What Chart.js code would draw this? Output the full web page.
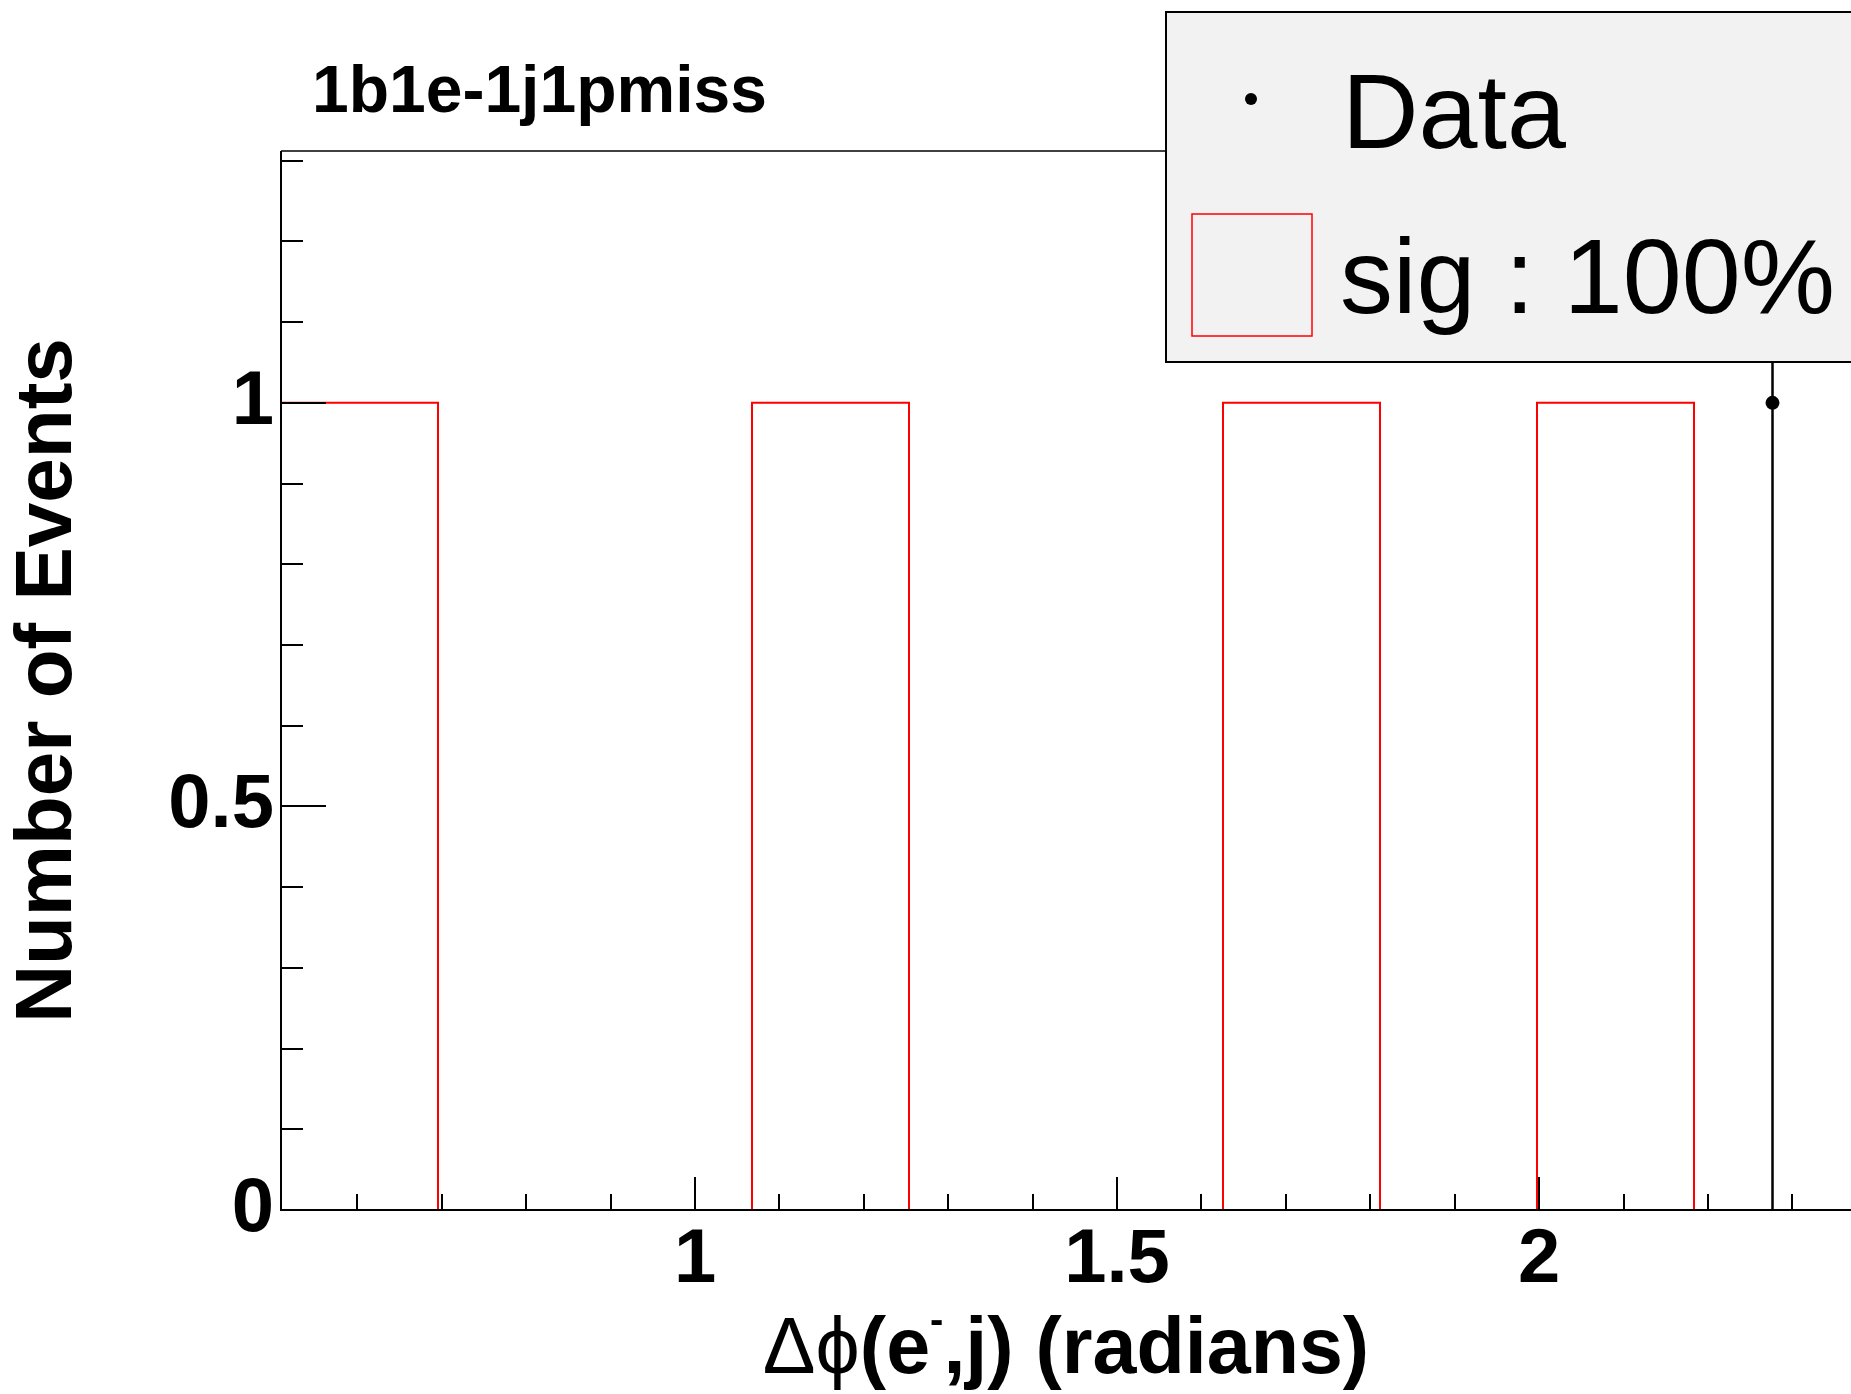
<!DOCTYPE html>
<html>
<head>
<meta charset="utf-8">
<title>1b1e-1j1pmiss</title>
<script src="https://cdn.jsdelivr.net/npm/chart.js@4.4.1/dist/chart.umd.min.js"></script>
<style>
  html, body { margin: 0; padding: 0; background: #fff; }
  canvas { display: block; }
</style>
</head>
<body>
<canvas id="histChart" width="1851" height="1394"></canvas>
<script>
// --- DATA ---
const BIN_EDGES = [0.5095, 0.6955, 0.8815, 1.0675, 1.2535, 1.4395, 1.6255, 1.8115, 1.9975, 2.1835, 2.3695];
const SIG_COUNTS = [1, 0, 0, 1, 0, 0, 1, 0, 1, 0];
const DATA_X = [2.2765];
const DATA_Y = [1];
const DATA_ERR = [1];
const X_MAJOR_TICKS = [1, 1.5, 2];
const Y_MAJOR_TICKS = [0, 0.5, 1];
const Y_MAX = 1.312;

const TITLE = '1b1e-1j1pmiss';
const Y_TITLE = 'Number of Events';
const FONT = '"Liberation Sans", "DejaVu Sans", Arial, sans-serif';

// --- HELPERS ---
const isMajor = (v, list) => list.some(m => Math.abs(m - v) < 1e-6);
const fmt = (v) => String(+v.toFixed(2));

// sig histogram outline: step points at bin edges
const sigPoints = [{ x: BIN_EDGES[0], y: 0 }];
SIG_COUNTS.forEach((c, i) => sigPoints.push({ x: BIN_EDGES[i], y: c }));
sigPoints.push({ x: BIN_EDGES[BIN_EDGES.length - 1], y: SIG_COUNTS[SIG_COUNTS.length - 1] });

const dataPoints = DATA_X.map((x, i) => ({ x: x, y: DATA_Y[i] }));

// --- PLUGINS ---
// ROOT style frame: axes + inward ticks, drawn over the histogram
const frameAxes = {
    id: 'frameAxes',
    afterDatasetsDraw(chart) {
        const { ctx, chartArea: a, scales: { x, y } } = chart;
        ctx.save();
        ctx.strokeStyle = '#000';
        ctx.lineWidth = 1.5;
        ctx.beginPath();
        ctx.moveTo(a.left, a.top);
        ctx.lineTo(a.right, a.top);
        ctx.stroke();

        ctx.lineWidth = 2;
        ctx.beginPath();
        ctx.moveTo(a.left, a.top);
        ctx.lineTo(a.left, a.bottom);
        ctx.lineTo(a.right, a.bottom);
        ctx.stroke();

        ctx.beginPath();
        x.ticks.forEach(t => {
            const px = Math.round(x.getPixelForValue(t.value));
            const len = isMajor(t.value, X_MAJOR_TICKS) ? 33 : 16;
            ctx.moveTo(px, a.bottom);
            ctx.lineTo(px, a.bottom - len);
        });
        y.ticks.forEach(t => {
            const py = Math.round(y.getPixelForValue(t.value));
            const len = isMajor(t.value, Y_MAJOR_TICKS) ? 45 : 22;
            ctx.moveTo(a.left, py);
            ctx.lineTo(a.left + len, py);
        });
        ctx.stroke();
        ctx.restore();
    }
};

// vertical error bars for the data points
const errorBars = {
    id: 'errorBars',
    afterDatasetsDraw(chart) {
        const { ctx, chartArea: a, scales: { x, y } } = chart;
        ctx.save();
        ctx.beginPath();
        ctx.rect(a.left, a.top, a.right - a.left, a.bottom - a.top);
        ctx.clip();
        ctx.strokeStyle = '#000';
        ctx.lineWidth = 2.5;
        ctx.beginPath();
        DATA_X.forEach((v, i) => {
            const px = x.getPixelForValue(v);
            ctx.moveTo(px, y.getPixelForValue(DATA_Y[i] - DATA_ERR[i]));
            ctx.lineTo(px, y.getPixelForValue(DATA_Y[i] + DATA_ERR[i]));
        });
        ctx.stroke();
        ctx.restore();
    }
};

// title, x axis title (mixed fonts) and the legend box
const decorations = {
    id: 'decorations',
    afterDraw(chart) {
        const { ctx, chartArea: a } = chart;
        const ds = chart.data.datasets;
        ctx.save();

        // pad title
        ctx.fillStyle = '#000';
        ctx.textBaseline = 'alphabetic';
        ctx.textAlign = 'left';
        ctx.font = 'bold 66px ' + FONT;
        ctx.fillText(TITLE, 312, 112);

        // x axis title: Δϕ(e⁻,j) (radians)
        const parts = [
            { t: 'Δϕ', f: 'normal 79px ' + FONT, dy: 0 },
            { t: '(e', f: 'bold 79px ' + FONT, dy: 0 },
            { t: '-', f: 'bold 40px ' + FONT, dy: -40 },
            { t: ',j) (radians)', f: 'bold 79px ' + FONT, dy: 0 }
        ];
        let total = 0;
        parts.forEach(p => { ctx.font = p.f; p.w = ctx.measureText(p.t).width; total += p.w; });
        let cx = (a.left + a.right) / 2 - total / 2;
        parts.forEach(p => {
            ctx.font = p.f;
            ctx.fillText(p.t, cx, 1373 + p.dy);
            cx += p.w;
        });

        // legend
        ctx.fillStyle = '#f2f2f2';
        ctx.fillRect(1166, 12, 720, 350);
        ctx.strokeStyle = '#000';
        ctx.lineWidth = 2;
        ctx.strokeRect(1166, 12, 720, 350);

        ctx.fillStyle = '#000';
        ctx.beginPath();
        ctx.arc(1251, 99, 6, 0, Math.PI * 2);
        ctx.fill();

        ctx.strokeStyle = '#ff0000';
        ctx.lineWidth = 1.5;
        ctx.strokeRect(1192, 214, 120, 122);

        ctx.fillStyle = '#000';
        ctx.font = 'normal 106px ' + FONT;
        ctx.fillText(ds[0].label, 1342, 148);
        ctx.fillText(ds[1].label, 1340, 313);

        ctx.restore();
    }
};

// --- CHART ---
const ctx = document.getElementById('histChart').getContext('2d');
new Chart(ctx, {
    type: 'line',
    data: {
        datasets: [
            {
                label: 'Data',
                type: 'scatter',
                data: dataPoints,
                showLine: false,
                pointRadius: 7,
                pointBackgroundColor: '#000',
                pointBorderWidth: 0
            },
            {
                label: 'sig : 100%',
                data: sigPoints,
                stepped: 'before',
                borderColor: '#ff0000',
                borderWidth: 2,
                pointRadius: 0,
                fill: false
            }
        ]
    },
    options: {
        responsive: false,
        maintainAspectRatio: false,
        animation: false,
        devicePixelRatio: 1,
        events: [],
        layout: {
            autoPadding: false,
            padding: { top: 151, right: 0, bottom: 0, left: 0 }
        },
        plugins: {
            legend: { display: false },
            tooltip: { enabled: false }
        },
        scales: {
            x: {
                type: 'linear',
                min: BIN_EDGES[0],
                max: BIN_EDGES[BIN_EDGES.length - 1],
                grid: { display: false, drawTicks: false },
                border: { display: false },
                ticks: {
                    stepSize: 0.1,
                    includeBounds: false,
                    autoSkip: false,
                    maxRotation: 0,
                    padding: 13,
                    color: '#000',
                    font: { family: FONT, size: 76, weight: 'bold', lineHeight: 1 },
                    callback: (v) => isMajor(v, X_MAJOR_TICKS) ? fmt(v) : ''
                },
                afterFit: (scale) => {
                    scale.height = 184;
                    scale.paddingLeft = 0;
                    scale.paddingRight = 0;
                }
            },
            y: {
                type: 'linear',
                min: 0,
                max: Y_MAX,
                grid: { display: false, drawTicks: false },
                border: { display: false },
                ticks: {
                    stepSize: 0.1,
                    includeBounds: false,
                    autoSkip: false,
                    padding: 7,
                    color: '#000',
                    font: { family: FONT, size: 76, weight: 'bold', lineHeight: 1 },
                    callback: (v) => isMajor(v, Y_MAJOR_TICKS) ? fmt(v) : ''
                },
                title: {
                    display: true,
                    text: Y_TITLE,
                    color: '#000',
                    font: { family: FONT, size: 80, weight: 'bold', lineHeight: 1 },
                    padding: { top: 9, bottom: 0 }
                },
                afterFit: (scale) => {
                    scale.width = 281;
                    scale.paddingTop = 0;
                    scale.paddingBottom = 0;
                }
            }
        }
    },
    plugins: [frameAxes, errorBars, decorations]
});
</script>
</body>
</html>
